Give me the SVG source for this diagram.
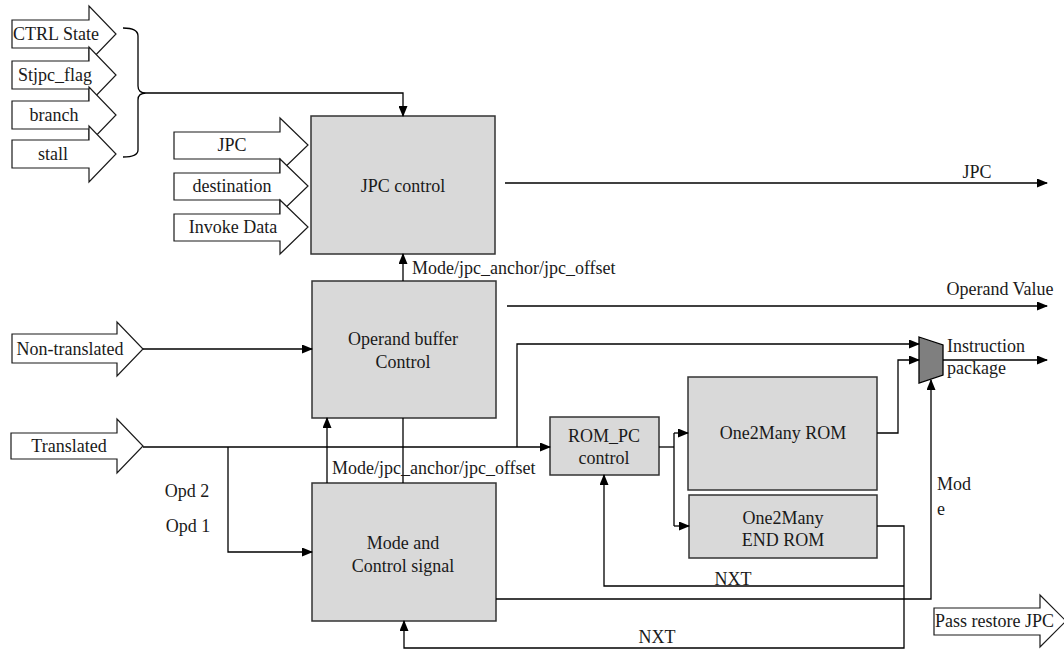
<svg xmlns="http://www.w3.org/2000/svg" width="1064" height="651" viewBox="0 0 1064 651" font-family="'Liberation Serif', 'Times New Roman', 'DejaVu Serif', serif" font-size="18">
  <style>
    .blk { fill: #d9d9d9; stroke: #333333; stroke-width: 1.5; }
    .big { fill: #ffffff; stroke: #1a1a1a; stroke-width: 1.2; stroke-linejoin: miter; }
    .wire { fill: none; stroke: #000000; stroke-width: 1.3; }
    .arr { marker-end: url(#ah); }
    text { fill: #1a1a1a; }
    .c { text-anchor: middle; }
  </style>
  <defs>
    <marker id="ah" markerUnits="userSpaceOnUse" markerWidth="11" markerHeight="9" refX="10" refY="4.5" orient="auto">
      <path d="M0,0 L11,4.5 L0,9 z" fill="#000000"/>
    </marker>
  </defs>

  <rect width="1064" height="651" fill="#ffffff"/>

  <!-- status inputs gathered by a brace -->
  <g id="in-ctrl-state">
    <polygon class="big" points="12,20 89,20 89,6 116,34 89,62 89,48 12,48"/>
    <text class="c" x="56" y="40">CTRL State</text>
  </g>
  <g id="in-stjpc-flag">
    <polygon class="big" points="12,61 89,61 89,47 116,75 89,103 89,89 12,89"/>
    <text class="c" x="55" y="81">Stjpc_flag</text>
  </g>
  <g id="in-branch">
    <polygon class="big" points="12,101 89,101 89,87 116,115 89,143 89,129 12,129"/>
    <text class="c" x="54" y="121">branch</text>
  </g>
  <g id="in-stall">
    <polygon class="big" points="12,140 89,140 89,126 116,154 89,182 89,168 12,168"/>
    <text class="c" x="53" y="160">stall</text>
  </g>
  <g id="brace">
    <path class="wire" d="M123,28 Q138,28 138,36 L138,86 Q138,93 146,93 Q138,93 138,100 L138,150 Q138,157 123,157"/>
  </g>

  <!-- JPC control inputs -->
  <g id="in-jpc">
    <polygon class="big" points="174,132 280,132 280,118 308,145 280,172 280,159 174,159"/>
    <text class="c" x="232" y="151">JPC</text>
  </g>
  <g id="in-destination">
    <polygon class="big" points="174,173 280,173 280,159 308,186 280,213 280,200 174,200"/>
    <text class="c" x="232" y="192">destination</text>
  </g>
  <g id="in-invoke-data">
    <polygon class="big" points="174,214 280,214 280,200 308,227 280,254 280,241 174,241"/>
    <text class="c" x="233" y="233">Invoke Data</text>
  </g>

  <g id="in-non-translated">
    <polygon class="big" points="12,334 117,334 117,322 143,349 117,376 117,363 12,363"/>
    <text class="c" x="70" y="355">Non-translated</text>
  </g>
  <g id="in-translated">
    <polygon class="big" points="11,433 117,433 117,419 143,446 117,473 117,459 11,459"/>
    <text class="c" x="69" y="452">Translated</text>
  </g>

  <g id="out-pass-restore-jpc">
    <polygon class="big" points="934,608 1040,608 1040,595 1066,621 1040,647 1040,635 934,635"/>
    <text x="935" y="627">Pass restore JPC</text>
  </g>

  <!-- functional blocks -->
  <g id="jpc-control">
    <rect class="blk" x="311" y="116" width="184" height="138"/>
    <text class="c" x="403" y="192">JPC control</text>
  </g>
  <g id="operand-buffer-control">
    <rect class="blk" x="312" y="281" width="184" height="137"/>
    <text class="c" x="403" y="345">Operand buffer</text>
    <text class="c" x="403" y="368">Control</text>
  </g>
  <g id="mode-control-signal">
    <rect class="blk" x="312" y="483" width="184" height="138"/>
    <text class="c" x="403" y="549">Mode and</text>
    <text class="c" x="403" y="572">Control signal</text>
  </g>
  <g id="rom-pc-control">
    <rect class="blk" x="550" y="417" width="109" height="58"/>
    <text class="c" x="604" y="442">ROM_PC</text>
    <text class="c" x="604" y="464">control</text>
  </g>
  <g id="one2many-rom">
    <rect class="blk" x="688" y="377" width="189" height="113"/>
    <text class="c" x="783" y="439">One2Many ROM</text>
  </g>
  <g id="one2many-end-rom">
    <rect class="blk" x="689" y="495" width="188" height="63"/>
    <text class="c" x="783" y="524">One2Many</text>
    <text class="c" x="783" y="546">END ROM</text>
  </g>
  <g id="mux">
    <polygon points="919,337 943,345 943,375 919,383" fill="#7f7f7f" stroke="#000000" stroke-width="1.3"/>
  </g>

  <!-- connectors -->
  <g id="connectors">
    <path class="wire arr" d="M146,93 L403,93 L403,116"/>
    <path class="wire arr" d="M505,183 L1047,183"/>
    <path class="wire arr" d="M507,306 L1047,306"/>
    <path class="wire arr" d="M403,281 L403,254"/>
    <path class="wire arr" d="M143,349 L312,349"/>
    <path class="wire arr" d="M143,447 L550,447"/>
    <path class="wire arr" d="M228,447 L228,552 L312,552"/>
    <path class="wire arr" d="M327,483 L327,418"/>
    <path class="wire" d="M403,418 L403,483"/>
    <path class="wire arr" d="M517,447 L517,344 L919,344"/>
    <path class="wire" d="M659,447 L674,447"/>
    <path class="wire" d="M674,433 L674,526"/>
    <path class="wire arr" d="M674,433 L688,433"/>
    <path class="wire arr" d="M674,526 L689,526"/>
    <path class="wire arr" d="M877,433 L898,433 L898,360 L919,360"/>
    <path class="wire arr" d="M943,360 L1047,360"/>
    <path class="wire arr" d="M496,599 L931,599 L931,380"/>
    <path class="wire arr" d="M877,526 L904,526 L904,648 L404,648 L404,621"/>
    <path class="wire arr" d="M904,586 L604,586 L604,475"/>
  </g>

  <!-- connector labels -->
  <g id="labels">
    <text x="412" y="274">Mode/jpc_anchor/jpc_offset</text>
    <text x="332" y="474">Mode/jpc_anchor/jpc_offset</text>
    <text class="c" x="977" y="178">JPC</text>
    <text class="c" x="1000" y="295">Operand Value</text>
    <text x="947" y="352">Instruction</text>
    <text x="947" y="374">package</text>
    <text x="937" y="490">Mod</text>
    <text x="937" y="515">e</text>
    <text class="c" x="187" y="497">Opd 2</text>
    <text class="c" x="188" y="532">Opd 1</text>
    <text class="c" x="733" y="585">NXT</text>
    <text class="c" x="657" y="643">NXT</text>
  </g>
</svg>
